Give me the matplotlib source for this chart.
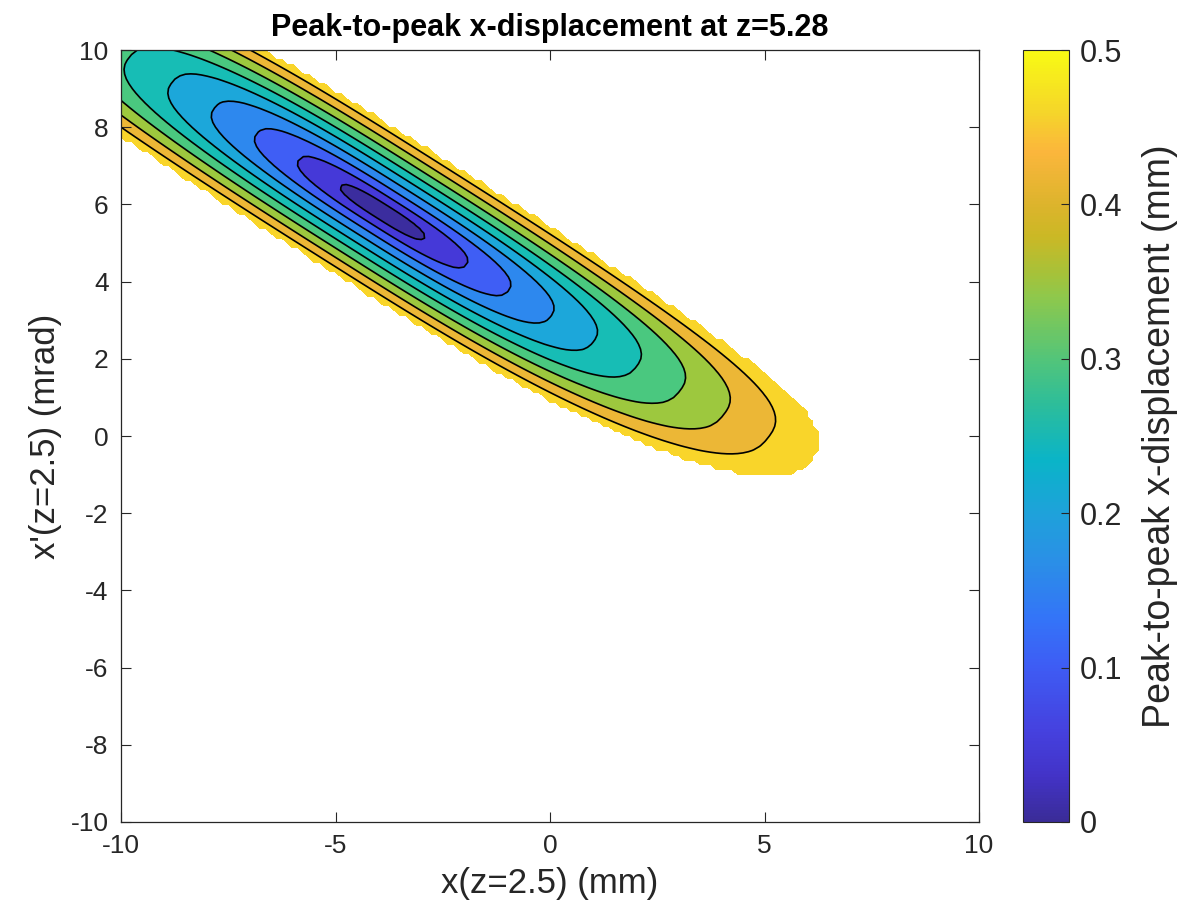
import numpy as np
import matplotlib
matplotlib.use("Agg")
import matplotlib.pyplot as plt
from matplotlib.colors import LinearSegmentedColormap, Normalize
from matplotlib.cm import ScalarMappable

plt.rcParams['font.family'] = ['Liberation Sans', 'DejaVu Sans']
plt.rcParams['axes.unicode_minus'] = False

# grid of starting conditions at z=2.5
x_grid = np.linspace(-10, 10, 161)      # mm
xp_grid = np.linspace(-10, 10, 161)     # mrad

# shape of the acceptance region (centre, main axis, size, bend)
centre = (-3.9, 5.8)
axis_slope = -0.70
half_length = 11.9      # along the main axis, where p2p = 0.5
half_width = 1.99       # across the main axis, where p2p = 0.5
shape_power = 2.7
bend = 0.0003
p2p_at_edge = 0.5       # mm

levels = [0, 0.05, 0.1, 0.15, 0.2, 0.25, 0.3, 0.35, 0.4, 0.45, 0.5]
band_colors = ['#3b2d9e', '#4539d8', '#3f5ef5', '#2d88ee', '#1ca7da',
               '#17bdb5', '#4ac87f', '#9dc83e', '#ecb736', '#f9d52a']

# colormap for the colorbar
cb_stops = [0.0, 0.03, 0.06, 0.10, 0.13, 0.17, 0.20, 0.234, 0.27, 0.30,
            0.34, 0.355, 0.38, 0.40, 0.435, 0.46, 0.50]
cb_colors = ['#3a2c98', '#4333c8', '#4542e0', '#3e5cf4', '#3473f8', '#2a90e6',
             '#1ea2da', '#0ab4c8', '#2cbd9b', '#52c57a', '#8ec84c', '#a5c23a',
             '#cbb825', '#dcb42c', '#fbb63c', '#f5d52a', '#f8fa14']

X, XP = np.meshgrid(x_grid, xp_grid)
theta = np.arctan(-axis_slope)
dx = X - centre[0]
dy = XP - centre[1]
u = dx * np.cos(theta) - dy * np.sin(theta)
v = dx * np.sin(theta) + dy * np.cos(theta) - bend * u**3
p2p = p2p_at_edge * (np.abs(u / half_length)**shape_power +
                     np.abs(v / half_width)**shape_power)**(1 / shape_power)
p2p = np.ma.masked_where(p2p > levels[-1], p2p)

fig = plt.figure(figsize=(12.03, 9.21), dpi=100)
ax = fig.add_axes([0.1006, 0.1075, 0.7132, 0.8382])
cax = fig.add_axes([0.8504, 0.1075, 0.0382, 0.8382])

ax.contourf(X, XP, p2p, levels=levels, colors=band_colors)
ax.contour(X, XP, p2p, levels=levels[1:-1], colors='k', linewidths=1.2)

ax.set_xlim(-10, 10)
ax.set_ylim(-10, 10)
ax.set_xticks([-10, -5, 0, 5, 10])
ax.set_yticks(np.arange(-10, 11, 2))
ax.tick_params(direction='in', length=7, width=0.8, top=True, right=True,
               labelsize=19, colors='#262626', pad=9)
for s in ax.spines.values():
    s.set_color('#262626')
    s.set_linewidth(0.9)
ax.set_xlabel('x(z=2.5) (mm)', fontsize=25, color='#262626', labelpad=6)
ax.set_ylabel("x'(z=2.5) (mrad)", fontsize=25, color='#262626', labelpad=6)
ax.set_title('Peak-to-peak x-displacement at z=5.28', fontsize=22,
             fontweight='bold', color='#000000', pad=10)

cmap = LinearSegmentedColormap.from_list(
    'p2p', list(zip(np.array(cb_stops) / 0.5, cb_colors)))
sm = ScalarMappable(norm=Normalize(0, 0.5), cmap=cmap)
cb = fig.colorbar(sm, cax=cax, ticks=[0, 0.1, 0.2, 0.3, 0.4, 0.5])
cb.ax.set_yticklabels(['0', '0.1', '0.2', '0.3', '0.4', '0.5'])
cb.ax.tick_params(direction='in', length=6, width=0.8, labelsize=22,
                  colors='#262626', pad=8)
cb.outline.set_edgecolor('#262626')
cb.set_label('Peak-to-peak x-displacement (mm)', fontsize=27, color='#262626',
             labelpad=14)

fig.savefig('out.png', dpi=100)
